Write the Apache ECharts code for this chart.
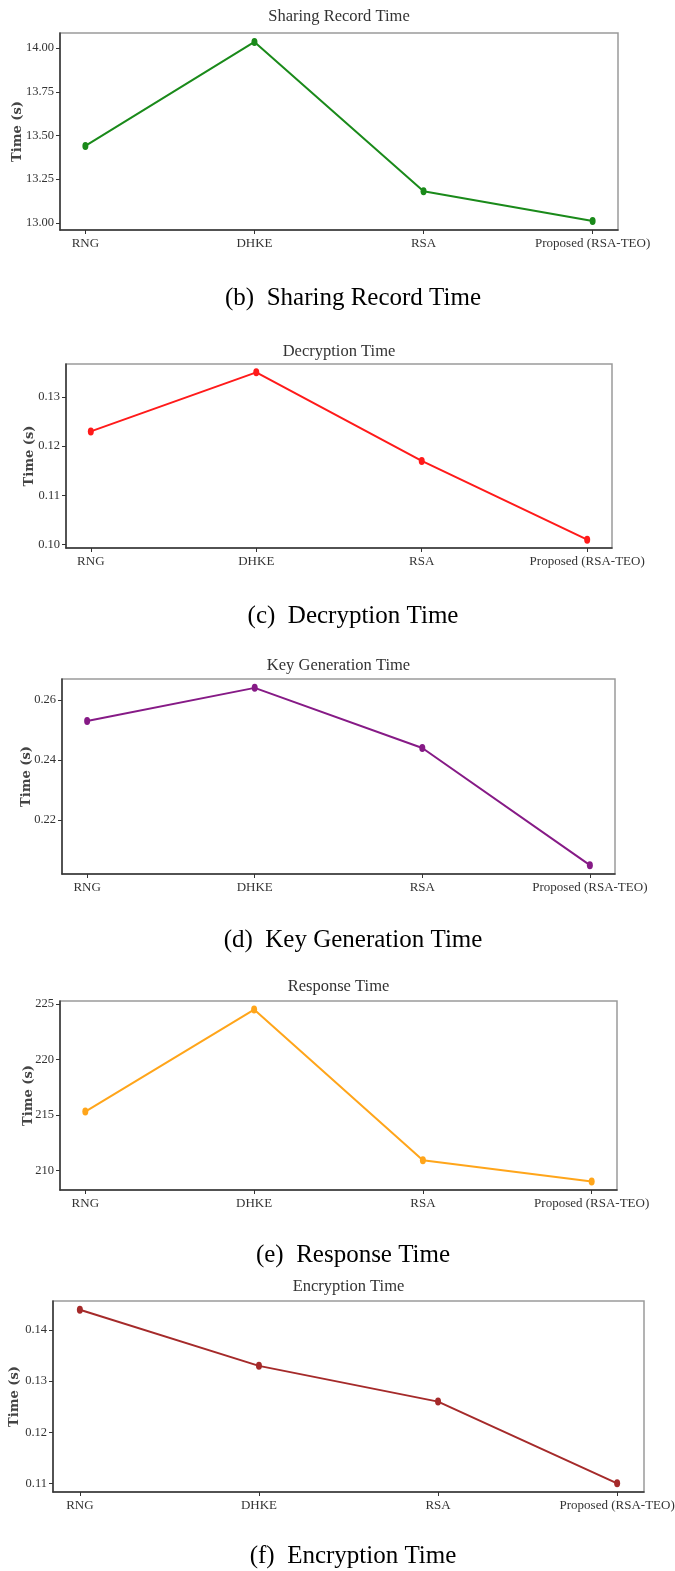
<!DOCTYPE html>
<html>
<head>
<meta charset="utf-8">
<script src="https://cdn.jsdelivr.net/npm/echarts@6/dist/echarts.min.js"></script>
<style>
  html, body { margin: 0; padding: 0; background: #fff; }
  #chart { width: 675px; height: 1571px; }
</style>
</head>
<body>
<div id="chart"></div>
<script>
// ---------- data ----------
const categories = ['RNG', 'DHKE', 'RSA', 'Proposed (RSA-TEO)'];

const sharingRecordTime = [13.44, 14.035, 13.18, 13.01];
const decryptionTime    = [0.123, 0.135, 0.117, 0.101];
const keyGenerationTime = [0.253, 0.264, 0.244, 0.205];
const responseTime      = [215.3, 224.5, 210.9, 209.0];
const encryptionTime    = [0.144, 0.133, 0.126, 0.110];

const sharingTicks    = [13.00, 13.25, 13.50, 13.75, 14.00];
const decryptionTicks = [0.10, 0.11, 0.12, 0.13];
const keyGenTicks     = [0.22, 0.24, 0.26];
const responseTicks   = [210, 215, 220, 225];
const encryptionTicks = [0.11, 0.12, 0.13, 0.14];

const panelTitles = ['Sharing Record Time', 'Decryption Time', 'Key Generation Time', 'Response Time', 'Encryption Time'];
const captions = ['(b)  Sharing Record Time', '(c)  Decryption Time', '(d)  Key Generation Time', '(e)  Response Time', '(f)  Encryption Time'];
const yAxisName = 'Time (s)';

// ---------- layout / style ----------
const panels = [
  { values: sharingRecordTime, ticks: sharingTicks,    dec: 2, color: '#1a8a1a', left: 60, top: 33,   width: 558, height: 197, nameGap: 36, titleY: 17,   capY: 298 },
  { values: decryptionTime,    ticks: decryptionTicks, dec: 2, color: '#ff1a1a', left: 66, top: 364,  width: 546, height: 184, nameGap: 30, titleY: 352,  capY: 616 },
  { values: keyGenerationTime, ticks: keyGenTicks,     dec: 2, color: '#861a86', left: 62, top: 679,  width: 553, height: 195, nameGap: 29, titleY: 666,  capY: 940 },
  { values: responseTime,      ticks: responseTicks,   dec: 0, color: '#ffa51a', left: 60, top: 1001, width: 557, height: 189, nameGap: 25, titleY: 987,  capY: 1255 },
  { values: encryptionTime,    ticks: encryptionTicks, dec: 2, color: '#a52a2a', left: 53, top: 1301, width: 591, height: 191, nameGap: 32, titleY: 1287, capY: 1556 }
];

const tickFont = "'Liberation Serif', 'Times New Roman', serif";
const capFont = "'Liberation Serif', 'Times New Roman', serif";
const catIdx = categories.map((c, i) => i);

const grids = [], xAxes = [], yAxes = [], series = [], graphics = [];

panels.forEach((p, k) => {
  const lo = Math.min(...p.values), hi = Math.max(...p.values);
  const pad = (hi - lo) * 0.05;
  grids.push({
    left: p.left, top: p.top, width: p.width, height: p.height,
    containLabel: false, outerBoundsMode: 'none',
    show: true, borderColor: '#9a9a9a', borderWidth: 1.5, backgroundColor: 'transparent'
  });
  xAxes.push({
    type: 'value', gridIndex: k, min: -0.15, max: 3.15,
    splitLine: { show: false },
    axisLine: { show: true, onZero: false, lineStyle: { color: '#333', width: 1.5 } },
    axisTick: { show: true, customValues: catIdx, length: 4, lineStyle: { color: '#333' } },
    axisLabel: {
      customValues: catIdx, margin: 7, color: '#333', fontFamily: tickFont, fontSize: 13,
      formatter: v => categories[Math.round(v)]
    }
  });
  yAxes.push({
    type: 'value', gridIndex: k, min: lo - pad, max: hi + pad,
    splitLine: { show: false },
    axisLine: { show: true, onZero: false, lineStyle: { color: '#333', width: 1.5 } },
    axisTick: { show: true, customValues: p.ticks, length: 4, lineStyle: { color: '#333' } },
    axisLabel: {
      customValues: p.ticks, margin: 6, color: '#333', fontFamily: tickFont, fontSize: 12.5,
      formatter: v => Number(v).toFixed(p.dec)
    },
    name: yAxisName, nameLocation: 'middle', nameGap: p.nameGap, nameMoveOverlap: false,
    nameTextStyle: { fontFamily: "'DejaVu Serif', serif", fontWeight: 'bold', fontSize: 13, color: '#444' }
  });
  series.push({
    type: 'line', xAxisIndex: k, yAxisIndex: k,
    data: p.values.map((v, i) => [catIdx[i], v]),
    symbol: 'circle', symbolSize: [6, 8], showSymbol: true,
    lineStyle: { color: p.color, width: 2 },
    itemStyle: { color: p.color },
    emphasis: { disabled: true }
  });
  graphics.push({
    type: 'text', x: p.left + p.width / 2, y: p.titleY,
    style: { text: panelTitles[k], fill: '#333', font: "16.5px 'Liberation Serif', serif", textAlign: 'center', textVerticalAlign: 'middle' }
  });
  graphics.push({
    type: 'text', x: 353, y: p.capY,
    style: { text: captions[k], fill: '#000', font: "25px " + capFont, textAlign: 'center', textVerticalAlign: 'middle' }
  });
});

const chart = echarts.init(document.getElementById('chart'), null, { renderer: 'canvas' });
chart.setOption({
  animation: false,
  backgroundColor: '#fff',
  grid: grids,
  xAxis: xAxes,
  yAxis: yAxes,
  series: series,
  graphic: graphics
});
</script>
</body>
</html>
